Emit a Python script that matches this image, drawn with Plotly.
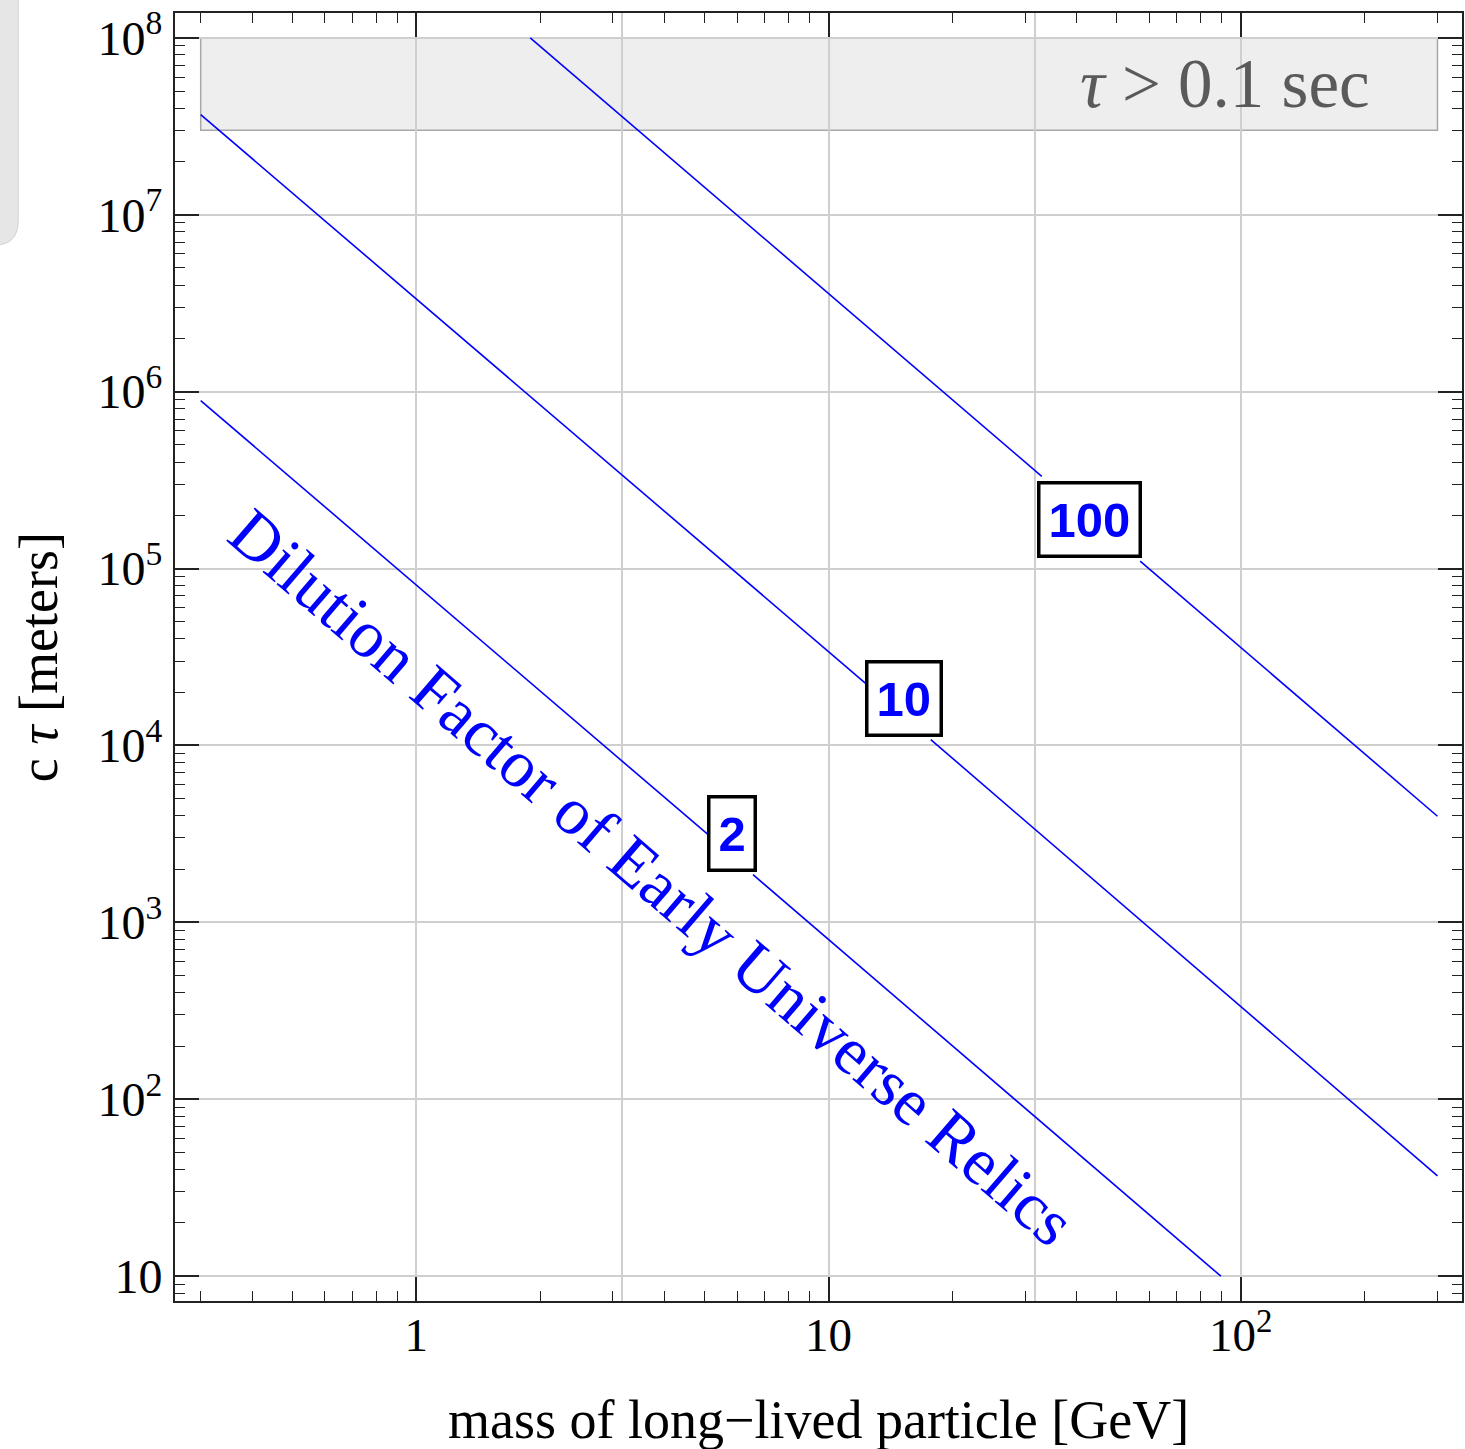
import math
import plotly.graph_objects as go

# ---- data ----
# contour lines cτ vs mass (segments broken where the labels sit)
line_2_mass = [0.3, 5.13, None, 6.56, 89.5]
line_2_ctau = [8.9e5, 3.1e3, None, 1.86e3, 10]
line_10_mass = [0.3, 12.4, None, 17.7, 300]
line_10_ctau = [3.68e7, 2.21e4, None, 1.08e4, 36.9]
line_100_mass = [1.89, 32.9, None, 57.0, 300]
line_100_ctau = [1.0e8, 3.32e5, None, 1.10e5, 3.98e3]

label_text = ["2", "10", "100"]
label_mass = [5.82, 15.22, 43.05]
label_ctau = [3.2e3, 1.85e4, 1.89e5]

band_mass = [0.3, 300]
band_ctau = [3.0e7, 1.0e8]

x_tickvals = [1, 10, 100]
x_ticktext = ["1", "10", "10<sup>2</sup>"]
x_gridvals = [1, 3.162, 10, 31.62, 100]
y_tickvals = [10, 1e2, 1e3, 1e4, 1e5, 1e6, 1e7, 1e8]
y_ticktext = ["10", "10<sup>2</sup>", "10<sup>3</sup>", "10<sup>4</sup>",
              "10<sup>5</sup>", "10<sup>6</sup>", "10<sup>7</sup>", "10<sup>8</sup>"]

xr = [-0.5852, 2.5366]
yr = [0.86, 8.14]

x_minor = [m * 10 ** e for e in range(-1, 3) for m in range(2, 10)
           if xr[0] <= math.log10(m * 10 ** e) <= xr[1]]
y_minor = [m * 10 ** e for e in range(0, 9) for m in range(2, 10)
           if yr[0] <= math.log10(m * 10 ** e) <= yr[1]]

SERIF = "Liberation Serif, Times New Roman, serif"
SANS = "Liberation Sans, Arial, sans-serif"
BLUE = "#0000ff"

fig = go.Figure()
for xs, ys in [(line_2_mass, line_2_ctau), (line_10_mass, line_10_ctau),
               (line_100_mass, line_100_ctau)]:
    fig.add_trace(go.Scatter(x=xs, y=ys, mode="lines",
                             line=dict(color=BLUE, width=1.6),
                             showlegend=False, hoverinfo="skip",
                             connectgaps=False))
# invisible trace on the grid axis
fig.add_trace(go.Scatter(x=[1], y=[10], xaxis="x2", mode="markers",
                         marker=dict(opacity=0), showlegend=False,
                         hoverinfo="skip"))

fig.add_shape(type="rect", xref="x", yref="y",
              x0=band_mass[0], x1=band_mass[1], y0=band_ctau[0], y1=band_ctau[1],
              fillcolor="#eeeeee", line=dict(color="#a8a8a8", width=1.5),
              layer="below")

# screen-pixel -> paper helpers (plot area spans x 175..1464, y 13..1301)
W, H = 1289.0, 1288.0
def px(xp):
    return (xp - 175) / W
def py(yp):
    return (1301 - yp) / H

# stray UI artefact at the top-left edge of the screenshot
path = (f"M {px(-30)},{py(-5)} L {px(18)},{py(-5)} L {px(18)},{py(220)} "
        f"Q {px(18)},{py(245)} {px(-5)},{py(245)} L {px(-30)},{py(245)} Z")
fig.add_shape(type="path", xref="paper", yref="paper", path=path,
              fillcolor="#e6e6e6", line=dict(color="#d2d2d2", width=1),
              layer="above")

annotations = []
for t, m, c in zip(label_text, label_mass, label_ctau):
    annotations.append(dict(x=math.log10(m), y=math.log10(c), xref="x", yref="y",
                            text=f"<b>{t}</b>", showarrow=False,
                            font=dict(family=SANS, size=49, color=BLUE),
                            bgcolor="white", bordercolor="black",
                            borderwidth=3.5, borderpad=8))
annotations.append(dict(x=math.log10(3.74), y=math.log10(1800), xref="x", yref="y",
                        text="Dilution Factor of Early Universe Relics",
                        textangle=40.7, showarrow=False,
                        font=dict(family=SERIF, size=67, color=BLUE)))
annotations.append(dict(x=math.log10(91.5), y=math.log10(5.5e7), xref="x", yref="y",
                        text="<i>τ</i> > 0.1 sec", showarrow=False,
                        font=dict(family=SERIF, size=69, color="#5a5a5a")))
annotations.append(dict(x=0.5, y=py(1420), xref="paper", yref="paper",
                        text="mass of long−lived particle [GeV]", showarrow=False,
                        yanchor="middle",
                        font=dict(family=SERIF, size=54, color="black")))
annotations.append(dict(x=px(39), y=0.5, xref="paper", yref="paper",
                        text="c <i>τ</i> [meters]", showarrow=False, textangle=-90,
                        xanchor="center", yanchor="middle",
                        font=dict(family=SERIF, size=54, color="black")))

axis_common = dict(type="log", ticks="inside", showline=True, linewidth=2,
                   linecolor="#222222", tickcolor="#222222", mirror="ticks",
                   ticklen=24, tickwidth=1.6, zeroline=False,
                   ticklabeloverflow="allow")

fig.update_layout(
    width=1465, height=1449,
    margin=dict(l=175, r=1, t=13, b=148),
    paper_bgcolor="white", plot_bgcolor="white",
    showlegend=False,
    xaxis=dict(**axis_common, range=xr, tickvals=x_tickvals, ticktext=x_ticktext,
               showgrid=False, ticklabelstandoff=-8,
               tickfont=dict(family=SERIF, size=47, color="black"),
               minor=dict(tickvals=x_minor, ticks="inside", ticklen=10,
                          tickwidth=1.4, tickcolor="#222222", showgrid=False)),
    xaxis2=dict(type="log", range=xr, overlaying="x", tickvals=x_gridvals,
                showticklabels=False, ticks="", showgrid=True,
                gridcolor="#cfcfcf", gridwidth=1.6, showline=False, zeroline=False),
    yaxis=dict(**axis_common, range=yr, tickvals=y_tickvals, ticktext=y_ticktext,
               showgrid=True, gridcolor="#cfcfcf", gridwidth=1.6,
               ticklabelstandoff=1,
               tickfont=dict(family=SERIF, size=48, color="black"),
               minor=dict(tickvals=y_minor, ticks="inside", ticklen=10,
                          tickwidth=1.4, tickcolor="#222222", showgrid=False)),
    annotations=annotations,
)

fig.write_html(
    "out.html",
    config={"displayModeBar": False},
    post_script="document.body.style.margin='0px';document.body.style.overflow='hidden';",
)
